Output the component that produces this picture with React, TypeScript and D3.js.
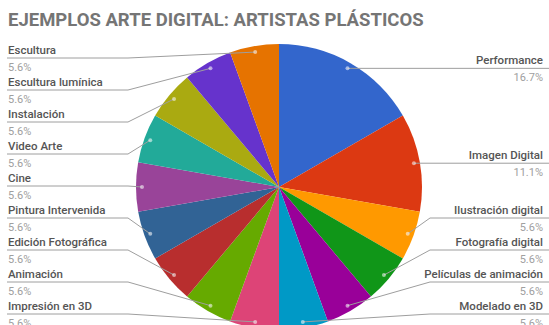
import React from "react";
import * as d3 from "d3";

const title = "EJEMPLOS ARTE DIGITAL: ARTISTAS PLÁSTICOS";
const categories = [
  "Performance",
  "Imagen Digital",
  "Ilustración digital",
  "Fotografía digital",
  "Películas de animación",
  "Modelado en 3D",
  "Impresión en 3D",
  "Animación",
  "Edición Fotográfica",
  "Pintura Intervenida",
  "Cine",
  "Video Arte",
  "Instalación",
  "Escultura lumínica",
  "Escultura",
];
const values = [3, 2, 1, 1, 1, 1, 1, 1, 1, 1, 1, 1, 1, 1, 1];
const percentLabels = [
  "16.7%", "11.1%", "5.6%", "5.6%", "5.6%", "5.6%", "5.6%", "5.6%",
  "5.6%", "5.6%", "5.6%", "5.6%", "5.6%", "5.6%", "5.6%",
];
const colors = [
  "#3366cc", "#dc3912", "#ff9900", "#109618", "#990099", "#0099c6",
  "#dd4477", "#66aa00", "#b82e2e", "#316395", "#994499", "#22aa99",
  "#aaaa11", "#6633cc", "#e67300",
];

const W = 549;
const H = 325;
const cx = 279;
const cy = 187;
const R = 143;
const dotR = 137;
const spacing = 32;
const minY = 58;
const maxY = 314;

function layout(ideal: number[]): number[] {
  const ys = ideal.map((y) => Math.max(minY, Math.min(maxY, y)));
  for (let i = 1; i < ys.length; i++) ys[i] = Math.max(ys[i], ys[i - 1] + spacing);
  ys[ys.length - 1] = Math.min(ys[ys.length - 1], maxY);
  for (let i = ys.length - 2; i >= 0; i--) ys[i] = Math.min(ys[i], ys[i + 1] - spacing);
  return ys;
}

export default function App() {
  const pie = d3.pie<number>().sort(null).value((d) => d);
  const arcs = pie(values);
  const arc = d3.arc<d3.PieArcDatum<number>>().innerRadius(0).outerRadius(R);

  const items = arcs.map((a, i) => {
    const mid = (a.startAngle + a.endAngle) / 2;
    return {
      i,
      a,
      mid,
      dx: cx + dotR * Math.sin(mid),
      dy: cy - dotR * Math.cos(mid),
      right: mid < Math.PI,
    };
  });
  const rightItems = items.filter((d) => d.right).sort((p, q) => p.dy - q.dy);
  const leftItems = items.filter((d) => !d.right).sort((p, q) => p.dy - q.dy);
  const ry = layout(rightItems.map((d) => d.dy));
  const ly = layout(leftItems.map((d) => d.dy));
  const labelY: Record<number, number> = {};
  rightItems.forEach((d, k) => (labelY[d.i] = ry[k]));
  leftItems.forEach((d, k) => (labelY[d.i] = ly[k]));

  const labelFont = "Roboto, 'Noto Sans', sans-serif";

  return (
    <svg
      width={W}
      height={H}
      style={{ position: "absolute", left: 0, top: 0, background: "#fff" }}
    >
      <text
        x={8}
        y={26}
        fontFamily={labelFont}
        fontWeight={700}
        fontSize={18.5}
        fill="#757575"
      >
        {title}
      </text>
      <g transform={`translate(${cx},${cy})`}>
        {arcs.map((a, i) => (
          <path key={i} d={arc(a) || ""} fill={colors[i]} />
        ))}
      </g>
      {items.map((d) => {
        const y = labelY[d.i];
        const pts: [number, number][] = d.right
          ? [[d.dx, d.dy], [430, y], [549, y]]
          : [[d.dx, d.dy], [128, y], [7, y]];
        const line = d3.line()(pts) || "";
        return (
          <g key={d.i}>
            <path d={line} fill="none" stroke="#9e9e9e" strokeWidth={1} />
            <circle cx={d.dx} cy={d.dy} r={2} fill="#ffffff" fillOpacity={0.55} />
            <text
              x={d.right ? 543 : 8}
              y={y - 4}
              textAnchor={d.right ? "end" : "start"}
              fontFamily={labelFont}
              fontWeight={500}
              fontSize={11.5}
              fill="#555555"
            >
              {categories[d.i]}
            </text>
            <text
              x={d.right ? 543 : 8}
              y={y + 13}
              textAnchor={d.right ? "end" : "start"}
              fontFamily={labelFont}
              fontSize={11}
              fill="#a0a0a0"
            >
              {percentLabels[d.i]}
            </text>
          </g>
        );
      })}
    </svg>
  );
}
